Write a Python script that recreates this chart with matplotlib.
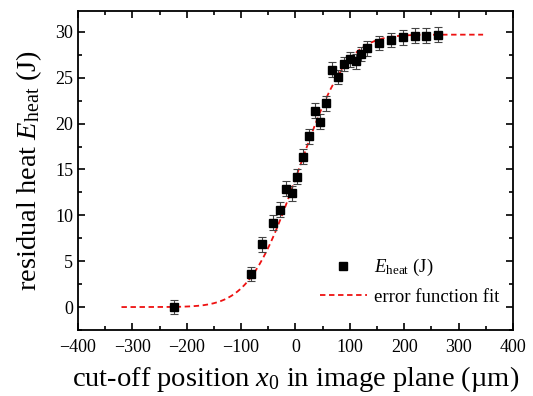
import matplotlib
matplotlib.use("Agg")
import matplotlib.pyplot as plt
from matplotlib.ticker import MultipleLocator
from matplotlib.lines import Line2D
from math import erf
import numpy as np

# measured residual heat vs cut-off position
x0_pos = [-224, -82, -62, -41, -29, -18, -7, 3, 13, 24, 35, 45, 57, 67, 78,
          89, 100, 111, 121, 132, 154, 176, 197, 219, 240, 262]
e_heat = [0.0, 3.6, 6.85, 9.2, 10.6, 12.9, 12.4, 14.2, 16.4, 18.6, 21.4, 20.2,
          22.2, 25.9, 25.1, 26.5, 27.0, 26.8, 27.6, 28.2, 28.8, 29.1, 29.4,
          29.6, 29.6, 29.7]
e_err = [0.8] * len(e_heat)

# error function fit parameters
fit_amp = 29.7
fit_center = 5.0
fit_width = 100.0
fit_range = (-320, 345)

plt.rcParams['font.family'] = ['Liberation Serif', 'DejaVu Serif']
plt.rcParams['mathtext.fontset'] = 'custom'
plt.rcParams['mathtext.rm'] = 'Liberation Serif'
plt.rcParams['mathtext.it'] = 'Liberation Serif:italic'

fig = plt.figure(figsize=(5.33, 3.96), dpi=100)
ax = fig.add_axes([0.1463, 0.1667, 0.8162, 0.806])

xf = np.linspace(fit_range[0], fit_range[1], 300)
yf = [fit_amp / 2 * (1 + erf((v - fit_center) / fit_width)) for v in xf]
ax.plot(xf, yf, '--', color='#ee1111', lw=1.3, dashes=(3, 2), zorder=2)

ax.errorbar(x0_pos, e_heat, yerr=e_err, fmt='s', color='black', ms=6,
            ecolor='#444444', elinewidth=0.8, capsize=3, capthick=0.8,
            zorder=3)

ax.set_xlim(-400, 400)
ax.set_ylim(-2.5, 32.3)
ax.xaxis.set_major_locator(MultipleLocator(100))
ax.xaxis.set_minor_locator(MultipleLocator(50))
ax.yaxis.set_major_locator(MultipleLocator(5))
ax.yaxis.set_minor_locator(MultipleLocator(2.5))
ax.tick_params(which='both', direction='in', top=True, right=True,
               labelsize=13, width=1.2)
ax.tick_params(axis='x', which='major', pad=6.5)
ax.tick_params(which='major', length=5)
ax.tick_params(which='minor', length=3)
for s in ax.spines.values():
    s.set_linewidth(1.3)

ax.set_xlabel(r'cut-off position $x_0$ in image plane (µm)', fontsize=20.5,
              labelpad=5.5)
ax.set_ylabel(r'residual heat $E_{\rm heat}$ (J)', fontsize=20.5, labelpad=8)

handles = [Line2D([], [], marker='s', ls='none', color='black', ms=6),
           Line2D([], [], ls='--', color='#ee1111', lw=1.3, dashes=(3, 2))]
labels = [r'$E_{\rm heat}$ (J)', 'error function fit']
ax.legend(handles, labels, loc='upper left', bbox_to_anchor=(0.556, 0.228),
          frameon=False, fontsize=13.5, handlelength=2.5, handletextpad=0.4,
          borderpad=0, borderaxespad=0, labelspacing=0.55)

fig.savefig('out.png', dpi=100)
